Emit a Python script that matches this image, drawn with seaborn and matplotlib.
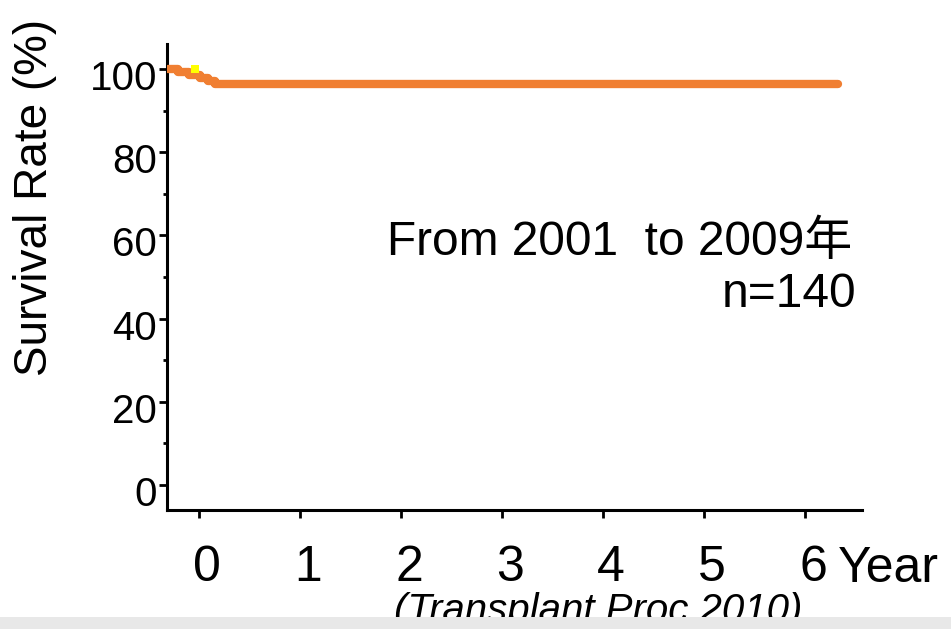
import matplotlib
matplotlib.use("Agg")
import matplotlib.pyplot as plt
import matplotlib.transforms as mtransforms
from matplotlib.patches import Rectangle
import seaborn as sns
import pandas as pd

# ---- data ----
times = [-0.31, -0.21, -0.10, 0.01, 0.09, 0.16, 6.33]
survival = [100.0, 99.3, 98.6, 97.9, 97.1, 96.4, 96.4]
censor_t = [-0.04]
censor_s = [100.0]
x_ticks = [0, 1, 2, 3, 4, 5, 6]
y_ticks = [0, 20, 40, 60, 80, 100]
y_minor = [10, 30, 50, 70, 90]
annot_line1 = "From 2001  to 2009年"
annot_line2 = "n=140"
x_label = "Year"
y_label = "Survival Rate (%)"
citation = "(Transplant Proc 2010)"

sns.set_theme(style="white")
FAM = ["Liberation Sans", "Noto Sans CJK SC", "DejaVu Sans"]
plt.rcParams["font.family"] = FAM
plt.rcParams["text.color"] = "black"

W, H = 951, 629
fig = plt.figure(figsize=(W / 100, H / 100), dpi=100)
fig.patch.set_facecolor("white")
ax = fig.add_axes([167 / W, 1 - 510 / H, (862 - 167) / W, (510 - 44) / H])
ax.set_facecolor("white")

df = pd.DataFrame({"t": times, "s": survival})
sns.lineplot(data=df, x="t", y="s", drawstyle="steps-post", estimator=None,
             color="#F07F32", linewidth=6, ax=ax, solid_capstyle="round",
             zorder=3)
cdf = pd.DataFrame({"t": censor_t, "s": censor_s})
sns.scatterplot(data=cdf, x="t", y="s", marker="s", s=40, color="#FFFF00",
                edgecolor="none", linewidth=0, ax=ax, zorder=4)

ax.set_xlim(-0.317, 6.564)
ax.set_ylim(-6, 106)
ax.set_xlabel("")
ax.set_ylabel("")

for side in ["top", "right"]:
    ax.spines[side].set_visible(False)
for side in ["left", "bottom"]:
    ax.spines[side].set_visible(True)
    ax.spines[side].set_linewidth(2.2)
    ax.spines[side].set_color("black")

ax.set_xticks(x_ticks)
ax.set_xticklabels([str(v) for v in x_ticks])
ax.set_yticks(y_ticks)
ax.set_yticklabels([str(v) for v in y_ticks])
ax.set_yticks(y_minor, minor=True)

ax.tick_params(axis="x", which="major", direction="out", length=6, width=2,
               color="black", labelcolor="black", labelsize=36, pad=19,
               bottom=True)
ax.tick_params(axis="y", which="major", direction="out", length=6, width=2,
               color="black", labelcolor="black", labelsize=29, pad=1,
               left=True)
ax.tick_params(axis="y", which="minor", direction="out", length=3, width=2,
               color="black", left=True)

# small offsets of tick labels as in the reference
dx = mtransforms.ScaledTranslation(8 / 100, 0, fig.dpi_scale_trans)
for lab in ax.get_xticklabels():
    lab.set_transform(lab.get_transform() + dx)
dy = mtransforms.ScaledTranslation(0, -6 / 100, fig.dpi_scale_trans)
for lab in ax.get_yticklabels():
    lab.set_transform(lab.get_transform() + dy)

# axis labels
fig.text(35 / W, 1 - 197 / H, y_label, rotation=90, ha="center", va="center",
         fontsize=33, color="black", family=FAM)
fig.text(838 / W, 1 - 582 / H, x_label, ha="left", va="baseline",
         fontsize=36, color="black", family=FAM)

# annotation
fig.text(852 / W, 1 - 255 / H, annot_line1, ha="right", va="baseline",
         fontsize=34.5, color="black", family=FAM)
fig.text(856 / W, 1 - 307 / H, annot_line2, ha="right", va="baseline",
         fontsize=34.5, color="black", family=FAM)

# citation, partly hidden by bottom band
fig.text(394 / W, 1 - 622 / H, citation, ha="left", va="baseline",
         fontsize=29, style="italic", color="black", family=FAM)
fig.patches.append(Rectangle((0, 0), 1, 12 / H, transform=fig.transFigure,
                             facecolor="#E8E8E8", edgecolor="none", zorder=10))

fig.savefig("out.png", dpi=100)
